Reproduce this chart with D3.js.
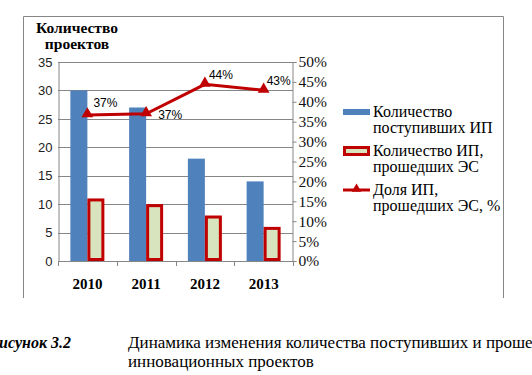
<!DOCTYPE html>
<html>
<head>
<meta charset="utf-8">
<script src="https://cdn.jsdelivr.net/npm/d3@7"></script>
<style>
  body { margin: 0; background: #fff; }
  svg { display: block; }
</style>
</head>
<body>
<div id="viz"></div>
<script>
// size
var w = 532;
var h = 375;

// data
var years = ["2010", "2011", "2012", "2013"];
var received = [30, 27, 18, 14];
var passed = [11, 10, 8, 6];
var share = [0.367, 0.37, 0.444, 0.429];
var shareLabels = ["37%", "37%", "44%", "43%"];
var leftTicks = [0, 5, 10, 15, 20, 25, 30, 35];
var rightTicks = [0, 0.05, 0.1, 0.15, 0.2, 0.25, 0.3, 0.35, 0.4, 0.45, 0.5];
var legendNames = [["Количество", "поступивших ИП"], ["Количество ИП,", "прошедших ЭС"], ["Доля ИП,", "прошедших ЭС, %"]];

// label offsets from the marker (dx, dy)
var labelOffset = [[6, -8], [12, 5], [4, -5], [3, -5]];

var blue = "#4F81BD", red = "#C00000", cream = "#D7E4BD";
var SERIF = "'Liberation Serif'";
var SANS = "'Liberation Sans'";

var svg = d3.select("#viz").append("svg")
    .attr("width", w)
    .attr("height", h);

// outer frame (left, top, right)
svg.append("path")
    .attr("d", "M23.5,298 V16.5 H503.5 V298")
    .attr("fill", "none")
    .attr("stroke", "#868686")
    .attr("stroke-width", 1);

var x = d3.scaleBand().domain(years).range([58, 293]);
var y = d3.scaleLinear().domain([0, 35]).range([261, 62]);
var y2 = d3.scaleLinear().domain([0, 0.5]).range([261, 62]);

// gridlines
svg.append("g").selectAll("line")
    .data(leftTicks)
    .enter().append("line")
    .attr("x1", 58).attr("x2", 293)
    .attr("y1", function(d) { return Math.round(y(d)) + 0.5; })
    .attr("y2", function(d) { return Math.round(y(d)) + 0.5; })
    .attr("stroke", "#868686");

// left axis
var leftAxis = svg.append("g")
    .attr("transform", "translate(58.5,0)")
    .call(d3.axisLeft(y).tickValues(leftTicks).tickSize(0).tickPadding(6));
leftAxis.attr("font-family", null);
leftAxis.select(".domain").attr("stroke", "#868686");
leftAxis.selectAll("text")
    .style("font-family", SANS)
    .style("font-size", "13px")
    .attr("fill", "#222");

// right axis
var rightAxis = svg.append("g")
    .attr("transform", "translate(292.5,0)")
    .call(d3.axisRight(y2).tickValues(rightTicks).tickSize(4).tickPadding(2)
        .tickFormat(d3.format(".0%")));
rightAxis.attr("font-family", null);
rightAxis.select(".domain").attr("stroke", "#868686");
rightAxis.selectAll("line").attr("stroke", "#868686");
rightAxis.selectAll("text")
    .style("font-family", SERIF)
    .style("font-size", "15.5px")
    .attr("fill", "#111");

// x axis
var xAxis = svg.append("g")
    .attr("transform", "translate(0,261.5)")
    .call(d3.axisBottom(x).tickSize(0).tickPadding(17));
xAxis.attr("font-family", null);
xAxis.select(".domain").remove();
xAxis.selectAll("text")
    .style("font-family", SERIF)
    .style("font-size", "15px")
    .style("font-weight", "bold")
    .attr("fill", "#000");
svg.append("g").selectAll("line")
    .data(years.concat(["end"]))
    .enter().append("line")
    .attr("x1", function(d, i) { return Math.round(58 + i * x.bandwidth()) + 0.5; })
    .attr("x2", function(d, i) { return Math.round(58 + i * x.bandwidth()) + 0.5; })
    .attr("y1", 261).attr("y2", 266)
    .attr("stroke", "#868686");

var barW = 17;

// received bars
svg.append("g").selectAll("rect")
    .data(received)
    .enter().append("rect")
    .attr("x", function(d, i) { return x(years[i]) + x.bandwidth() / 2 - barW; })
    .attr("y", function(d) { return y(d); })
    .attr("width", barW)
    .attr("height", function(d) { return y(0) - y(d); })
    .attr("fill", blue);

// passed bars
svg.append("g").selectAll("rect")
    .data(passed)
    .enter().append("rect")
    .attr("x", function(d, i) { return x(years[i]) + x.bandwidth() / 2 + 1.5; })
    .attr("y", function(d) { return y(d) + 1.5; })
    .attr("width", barW - 3)
    .attr("height", function(d) { return y(0) - y(d) - 3; })
    .attr("fill", cream)
    .attr("stroke", red)
    .attr("stroke-width", 3);

// share line
var cx = function(d, i) { return x(years[i]) + x.bandwidth() / 2; };
var line = d3.line()
    .x(cx)
    .y(function(d) { return y2(d); });

svg.append("path")
    .datum(share)
    .attr("d", line)
    .attr("fill", "none")
    .attr("stroke", red)
    .attr("stroke-width", 3);

var tri = d3.symbol().type(d3.symbolTriangle).size(60);
svg.append("g").selectAll("path")
    .data(share)
    .enter().append("path")
    .attr("transform", function(d, i) { return "translate(" + cx(d, i) + "," + (y2(d) - 1) + ")"; })
    .attr("d", tri)
    .attr("fill", red);

svg.append("g").selectAll("text")
    .data(share)
    .enter().append("text")
    .attr("x", function(d, i) { return cx(d, i) + labelOffset[i][0]; })
    .attr("y", function(d, i) { return y2(d) + labelOffset[i][1]; })
    .style("font-family", SANS)
    .style("font-size", "12px")
    .attr("fill", "#000")
    .text(function(d, i) { return shareLabels[i]; });

// axis title
svg.append("text")
    .attr("text-anchor", "middle")
    .style("font-family", SERIF)
    .style("font-size", "15.5px")
    .style("font-weight", "bold")
    .selectAll("tspan")
    .data(["Количество", "проектов"])
    .enter().append("tspan")
    .attr("x", 77)
    .attr("y", function(d, i) { return 33 + i * 16; })
    .text(function(d) { return d; });

// legend
var legend = svg.append("g").attr("transform", "translate(343,0)");
var legY = [112, 151, 190];

legend.append("rect")
    .attr("x", 0).attr("y", legY[0] - 3)
    .attr("width", 27).attr("height", 6)
    .attr("fill", blue);
legend.append("rect")
    .attr("x", 1.5).attr("y", legY[1] - 3.5)
    .attr("width", 24).attr("height", 7)
    .attr("fill", cream)
    .attr("stroke", red)
    .attr("stroke-width", 3);
legend.append("line")
    .attr("x1", 0).attr("x2", 27)
    .attr("y1", legY[2]).attr("y2", legY[2])
    .attr("stroke", red)
    .attr("stroke-width", 3);
legend.append("path")
    .attr("transform", "translate(13.5," + (legY[2] - 1) + ")")
    .attr("d", d3.symbol().type(d3.symbolTriangle).size(40))
    .attr("fill", red);

legend.selectAll("text.leg")
    .data(legendNames)
    .enter().append("text")
    .attr("class", "leg")
    .style("font-family", SERIF)
    .style("font-size", "16px")
    .attr("fill", "#000")
    .each(function(d, i) {
        d3.select(this).selectAll("tspan")
            .data(d)
            .enter().append("tspan")
            .attr("x", 30)
            .attr("y", function(t, j) { return legY[i] + 5 + j * 16; })
            .text(function(t) { return t; });
    });

// caption under the figure
svg.append("text")
    .attr("x", -1)
    .attr("y", 348)
    .style("font-family", SERIF)
    .style("font-size", "16px")
    .style("font-weight", "bold")
    .style("font-style", "italic")
    .text("исунок 3.2");

// caption text, split in two lines
svg.append("text")
    .attr("x", 128)
    .attr("y", 348)
    .style("font-family", SERIF)
    .style("font-size", "17px")
    .text("Динамика изменения количества поступивших и прошедших");

svg.append("text")
    .attr("x", 128)
    .attr("y", 367)
    .style("font-family", SERIF)
    .style("font-size", "17px")
    .text("инновационных проектов");
</script>
</body>
</html>
